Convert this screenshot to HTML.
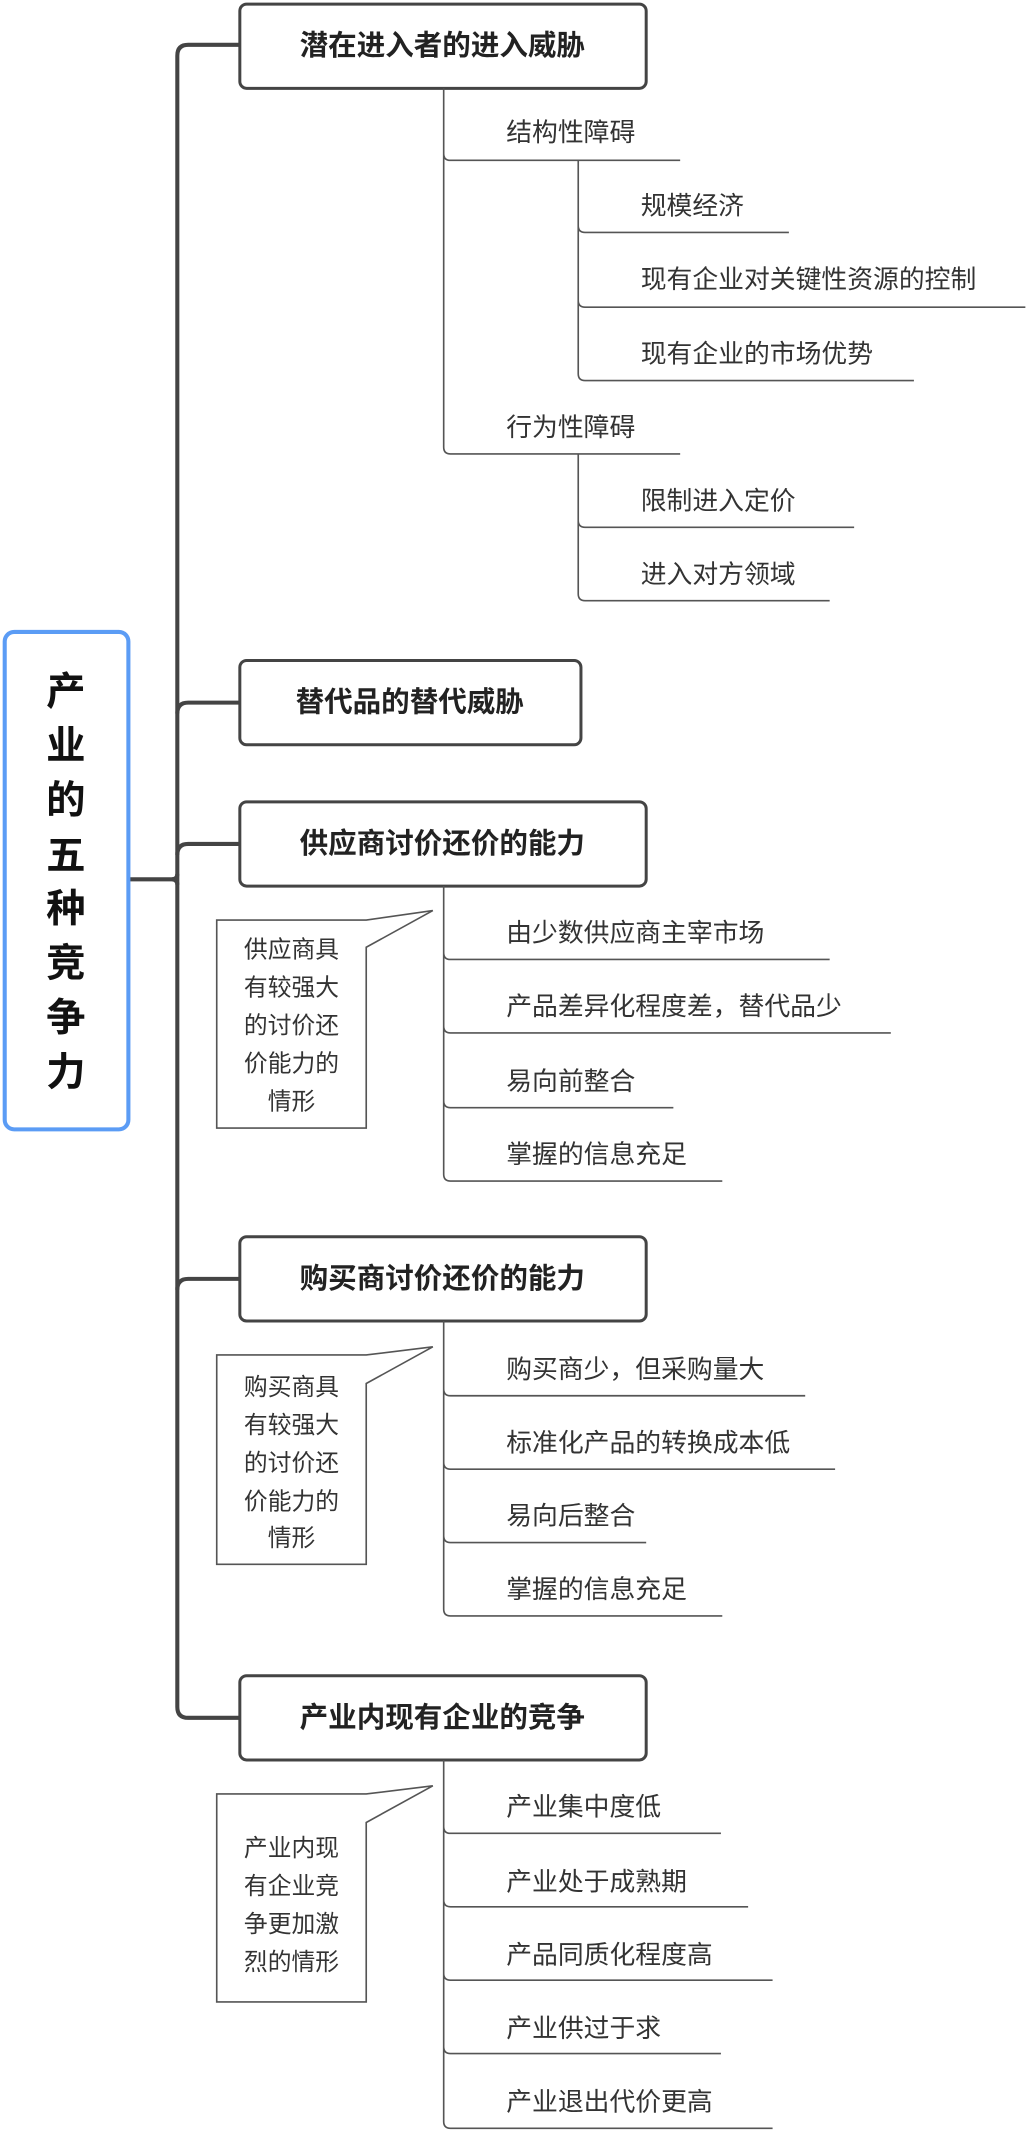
<!DOCTYPE html>
<html><head><meta charset="utf-8"><style>
html,body{margin:0;padding:0;background:#fff;}
svg{display:block;}
text{font-family:"Liberation Sans","Noto Sans CJK SC",sans-serif;fill:#333;dominant-baseline:central;}
.b{font-weight:bold;font-size:21px;text-anchor:middle;fill:#222;}
.c{font-size:19px;}
.n{font-size:17.5px;text-anchor:middle;}
.r{font-weight:bold;font-size:29px;text-anchor:middle;fill:#111;}
.t{fill:none;stroke:#444;stroke-width:3;}
.l{fill:none;stroke:#555;stroke-width:1.2;}
.box{fill:#fff;stroke:#444;stroke-width:2.2;}
.call{fill:#fff;stroke:#555;stroke-width:1.2;}
</style></head><body>
<svg width="1026" height="2131" viewBox="0 0 754 1568" xmlns="http://www.w3.org/2000/svg">
<!-- trunk -->
<path class="t" d="M176 33 H138 Q130 33 130 41 V1256 Q130 1264 138 1264 H176"/>
<path class="t" d="M95 647 H126 Q130 647 130 643"/>
<path class="t" d="M130 651 Q130 647 126 647"/>
<path class="t" d="M130 525 Q130 517 138 517 H176"/>
<path class="t" d="M130 629 Q130 621 138 621 H176"/>
<path class="t" d="M130 949 Q130 941 138 941 H176"/>
<!-- root -->
<rect x="3" y="465" width="91" height="366" rx="7" fill="#fff" stroke="#5b9cf5" stroke-width="3"/>
<text class="r" x="48" y="509">产</text><text class="r" x="48" y="549">业</text><text class="r" x="48" y="589">的</text><text class="r" x="48" y="630">五</text><text class="r" x="48" y="669">种</text><text class="r" x="48" y="709">竞</text><text class="r" x="48" y="749">争</text><text class="r" x="48" y="789">力</text>
<!-- main boxes -->
<rect class="box" x="176" y="3" width="299" height="62" rx="5"/><text class="b" x="325" y="34">潜在进入者的进入威胁</text>
<rect class="box" x="176" y="486" width="251" height="62" rx="5"/><text class="b" x="301" y="517">替代品的替代威胁</text>
<rect class="box" x="176" y="590" width="299" height="62" rx="5"/><text class="b" x="325" y="621">供应商讨价还价的能力</text>
<rect class="box" x="176" y="910" width="299" height="62" rx="5"/><text class="b" x="325" y="941">购买商讨价还价的能力</text>
<rect class="box" x="176" y="1233" width="299" height="62" rx="5"/><text class="b" x="325" y="1264">产业内现有企业的竞争</text>
<!-- box1 children -->
<path class="l" d="M326 65 V329 Q326 334 331 334 H500 M326 113 Q326 118 331 118 H500"/>
<text class="c" x="372" y="98">结构性障碍</text><text class="c" x="372" y="315">行为性障碍</text>
<path class="l" d="M425 118 V275 Q425 280 430 280 H672 M425 166 Q425 171 430 171 H580 M425 221 Q425 226 430 226 H754"/>
<text class="c" x="471" y="152">规模经济</text><text class="c" x="471" y="206">现有企业对关键性资源的控制</text><text class="c" x="471" y="261">现有企业的市场优势</text>
<path class="l" d="M425 334 V437 Q425 442 430 442 H610 M425 383 Q425 388 430 388 H628"/>
<text class="c" x="471" y="369">限制进入定价</text><text class="c" x="471" y="423">进入对方领域</text>
<!-- box3 -->
<path class="l" d="M326 652 V864 Q326 869 331 869 H531 M326 701 Q326 706 331 706 H610 M326 755 Q326 760 331 760 H655 M326 810 Q326 815 331 815 H495"/>
<text class="c" x="372" y="687">由少数供应商主宰市场</text><text class="c" x="372" y="741">产品差异化程度差，替代品少</text><text class="c" x="372" y="796">易向前整合</text><text class="c" x="372" y="850">掌握的信息充足</text>
<path class="call" d="M159 677 H269 L318 670 L269 697 V830 H159 Z"/>
<text class="n" x="214" y="699">供应商具</text><text class="n" x="214" y="727">有较强大</text><text class="n" x="214" y="755">的讨价还</text><text class="n" x="214" y="783">价能力的</text><text class="n" x="214" y="811">情形</text>
<!-- box4 -->
<path class="l" d="M326 972 V1184 Q326 1189 331 1189 H531 M326 1022 Q326 1027 331 1027 H592 M326 1076 Q326 1081 331 1081 H614 M326 1130 Q326 1135 331 1135 H475"/>
<text class="c" x="372" y="1008">购买商少，但采购量大</text><text class="c" x="372" y="1062">标准化产品的转换成本低</text><text class="c" x="372" y="1116">易向后整合</text><text class="c" x="372" y="1170">掌握的信息充足</text>
<path class="call" d="M159 997 H269 L318 991 L269 1018 V1151 H159 Z"/>
<text class="n" x="214" y="1021">购买商具</text><text class="n" x="214" y="1049">有较强大</text><text class="n" x="214" y="1077">的讨价还</text><text class="n" x="214" y="1105">价能力的</text><text class="n" x="214" y="1132">情形</text>
<!-- box5 -->
<path class="l" d="M326 1295 V1561 Q326 1566 331 1566 H568 M326 1344 Q326 1349 331 1349 H530 M326 1398 Q326 1403 331 1403 H550 M326 1452 Q326 1457 331 1457 H568 M326 1506 Q326 1511 331 1511 H530"/>
<text class="c" x="372" y="1330">产业集中度低</text><text class="c" x="372" y="1385">产业处于成熟期</text><text class="c" x="372" y="1439">产品同质化程度高</text><text class="c" x="372" y="1493">产业供过于求</text><text class="c" x="372" y="1547">产业退出代价更高</text>
<path class="call" d="M159 1320 H269 L318 1314 L269 1341 V1473 H159 Z"/>
<text class="n" x="214" y="1360">产业内现</text><text class="n" x="214" y="1388">有企业竞</text><text class="n" x="214" y="1416">争更加激</text><text class="n" x="214" y="1444">烈的情形</text>
</svg>
</body></html>
